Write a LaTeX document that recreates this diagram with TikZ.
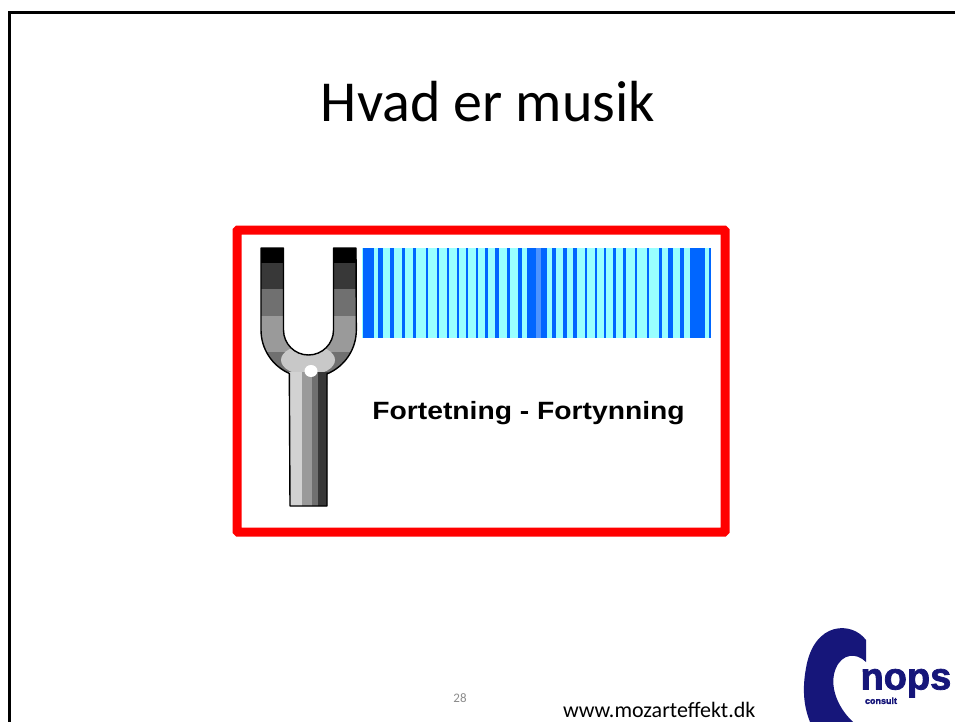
\documentclass[tikz,border=0pt]{standalone}
\usepackage{fontspec}
\setmainfont{Carlito}
\newfontfamily\arialfont{Liberation Sans}
\newfontfamily\logofont{Liberation Sans}[BoldFeatures={FakeBold=2}]
\definecolor{framered}{HTML}{FF0000}
\definecolor{barcyan}{HTML}{99FFFF}
\definecolor{barblue}{HTML}{0066FF}
\definecolor{barmid}{HTML}{4D94FF}
\definecolor{logonavy}{HTML}{16167A}
\definecolor{pagegray}{HTML}{8C8C8C}
\definecolor{steelA}{HTML}{383838}
\definecolor{steelB}{HTML}{707070}
\definecolor{steelC}{HTML}{9A9A9A}
\definecolor{steelD}{HTML}{C8C8C8}
\definecolor{steelE}{HTML}{D2D2D2}
% outline of the tuning fork (prongs, bend and handle)
\newcommand{\forkoutline}{(261,248) -- (261,330) arc[start angle=180, end angle=113.8, radius=47.5]
  -- (290,506) -- (327,506) -- (327,373.9) arc[start angle=67.5, end angle=0, radius=47.5]
  -- (356,248) -- (333.5,248) -- (333.5,330) arc[start angle=0, end angle=180, radius=25]
  -- (283.5,248) -- cycle}
\tikzset{
  slidetitle/.style={font=\fontsize{58}{60}\selectfont, anchor=base},
  captiontext/.style={font=\arialfont\bfseries\fontsize{25}{27}\selectfont, anchor=base, xscale=1.13},
  footertext/.style={font=\fontsize{22}{24}\selectfont, anchor=base west},
  pagenumber/.style={font=\fontsize{13}{15}\selectfont, text=pagegray, anchor=base},
}
\begin{document}
\begin{tikzpicture}[x=1pt, y=-1pt, inner sep=0pt, outer sep=0pt]
\useasboundingbox[fill=white] (0,0) rectangle (955,722);

% slide border
\coordinate (frameTR) at (955,12.5);
\coordinate (frameTL) at (9.5,12.5);
\coordinate (frameBL) at (9.5,722);
\draw[line width=3pt] (frameTR) -- (frameTL) -- (frameBL);

% title
\node[slidetitle] (title) at (488,122) {Hvad er musik};

% sound wave: compressions and rarefactions
\fill[barcyan] (362,248) rectangle (709,338);
\foreach \a/\b in {363/374, 378/382.5, 390/394, 401.5/405, 413/416, 425.5/428, 436.5/439,
  446.5/449, 456.5/459, 466/468, 475.5/478, 485/487.5, 495/498.5, 506.5/510, 518/522,
  527/536, 541/547, 552/555.5, 563/567, 573/577, 584.5/587, 594.5/597, 604/606, 613/615.5,
  623/625.5, 634.5/637, 646.5/649, 659/661.5, 668/673, 680/684, 690/705, 709/711}
  \fill[barblue] (\a,248) rectangle (\b,338);
\fill[barmid] (536,248) rectangle (541,338);

% tuning fork
\begin{scope}
  \clip \forkoutline;
  \fill[steelC] (250,240) rectangle (370,520);
  \fill[black] (250,240) rectangle (370,263);
  \fill[steelA] (250,263) rectangle (370,289);
  \fill[steelB] (250,289) rectangle (370,316);
  \fill[steelB] (250,352) rectangle (370,385);
  \fill[steelD] (308,360) ellipse[x radius=27, y radius=15];
  \fill[steelE] (289,372) rectangle (302,510);
  \fill[steelC] (302,372) rectangle (312,510);
  \fill[steelB] (312,372) rectangle (318,510);
  \fill[steelA] (318,372) rectangle (328,510);
  \fill[white] (311,371) ellipse[x radius=6.5, y radius=6];
\end{scope}
\draw[line width=1.4pt, line join=round] \forkoutline;

% caption
\node[captiontext] (caption) at (528.5,419) {Fortetning - Fortynning};

% red frame around the illustration
\draw[framered, line width=9pt, rounded corners=1pt] (237,230) rectangle (725,532);

% footer
\node[pagenumber] (page) at (460,702) {28};
\node[footertext] (url) at (563,717) {www.mozarteffekt.dk};

% company logo
\fill[logonavy] (866,640) .. controls (852,621) and (814,621) .. (806,668)
  .. controls (801,695) and (806,712) .. (810,722) -- (853,722)
  .. controls (836,706) and (829,684) .. (836,668)
  .. controls (842,654) and (856,652) .. (866,662) -- cycle;
\node[text=logonavy, anchor=north west, align=left] (logotext) at (860.5,669)
  {\logofont\bfseries\fontsize{38}{30}\selectfont nops\\[-1pt]
   \hspace*{4.5pt}\logofont\bfseries\fontsize{9}{9}\selectfont consult};
\end{tikzpicture}
\end{document}
